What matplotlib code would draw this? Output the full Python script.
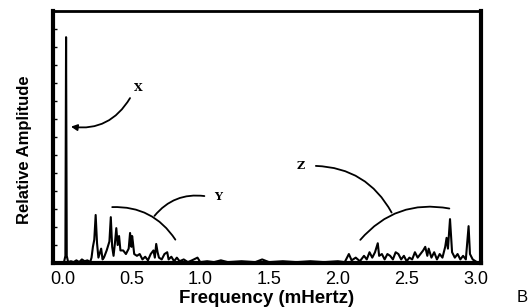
import matplotlib
matplotlib.use("Agg")
import matplotlib.pyplot as plt

# spectrum (frequency in mHz, relative amplitude)
freq = [0.00, 0.01, 0.02, 0.025, 0.03, 0.04, 0.06, 0.08, 0.10, 0.12, 0.14, 0.16, 0.18, 0.20,
        0.21, 0.22, 0.23, 0.24, 0.25, 0.26, 0.28, 0.29, 0.30, 0.32, 0.34, 0.35, 0.36, 0.37,
        0.38, 0.39, 0.40, 0.41, 0.42, 0.44, 0.46, 0.48, 0.49, 0.50, 0.505, 0.51, 0.52, 0.54,
        0.56, 0.58, 0.60, 0.62, 0.64, 0.66, 0.67, 0.68, 0.69, 0.70, 0.72, 0.74, 0.76, 0.77,
        0.79, 0.81, 0.83, 0.85, 0.88, 0.91, 0.94, 0.98, 1.00, 1.05, 1.10, 1.15, 1.20, 1.30,
        1.40, 1.45, 1.50, 1.60, 1.70, 1.80, 1.90, 2.00, 2.05, 2.08, 2.10, 2.13, 2.16, 2.19,
        2.21, 2.23, 2.25, 2.27, 2.29, 2.30, 2.32, 2.34, 2.36, 2.38, 2.40, 2.42, 2.44, 2.46,
        2.48, 2.50, 2.52, 2.54, 2.56, 2.58, 2.60, 2.62, 2.635, 2.65, 2.66, 2.68, 2.70, 2.72,
        2.74, 2.76, 2.78, 2.79, 2.80, 2.815, 2.83, 2.85, 2.87, 2.89, 2.91, 2.93, 2.95, 2.96,
        2.98, 3.00]
amp = [0.0, 0.05, 0.4, 12.55, 0.4, 0.05, 0.1, 0.05, 0.15, 0.05, 0.2, 0.1, 0.15, 0.05,
       0.3, 0.9, 1.3, 2.67, 1.1, 0.3, 0.8, 0.2, 0.3, 0.7, 1.2, 2.55, 0.9, 0.4,
       1.1, 1.94, 1.0, 1.5, 0.7, 0.7, 0.5, 0.8, 1.67, 0.9, 1.5, 1.2, 0.5, 0.4,
       0.5, 0.2, 0.35, 0.15, 0.5, 0.7, 0.3, 1.06, 0.6, 0.3, 0.2, 0.5, 0.6, 0.2,
       0.35, 0.1, 0.3, 0.1, 0.2, 0.05, 0.15, 0.3, 0.05, 0.1, 0.05, 0.15, 0.05, 0.1,
       0.05, 0.2, 0.05, 0.1, 0.05, 0.1, 0.05, 0.1, 0.05, 0.5, 0.15, 0.3, 0.1, 0.4,
       0.2, 0.6, 0.3, 0.6, 1.1, 0.4, 0.5, 0.2, 0.5, 0.4, 0.2, 0.6, 0.5, 0.2,
       0.4, 0.1, 0.3, 0.2, 0.6, 0.3, 0.5, 0.7, 0.9, 0.4, 0.8, 0.3, 0.6, 0.2,
       0.5, 0.3, 0.9, 1.4, 0.8, 2.44, 0.6, 0.3, 0.5, 0.2, 0.4, 0.2, 2.05, 0.5,
       0.2, 0.1]

xticks = [0.0, 0.5, 1.0, 1.5, 2.0, 2.5, 3.0]
xticklabels = ["0.0", "0.5", "1.0", "1.5", "2.0", "2.5", "3.0"]

fig = plt.figure(figsize=(5.3, 3.08), dpi=100)
ax = fig.add_axes([0.1, 0.146, 0.8075, 0.818])

ax.plot(freq, amp, color="black", lw=1.5)

ax.set_xlim(-0.07, 3.04)
ax.set_ylim(0, 14)
ax.set_xticks(xticks)
ax.set_xticklabels(xticklabels, fontfamily="Liberation Sans", fontsize=13)
ax.tick_params(axis="x", length=0, pad=6)
ax.set_yticks(range(0, 15))
ax.set_yticklabels([])
ax.tick_params(axis="y", direction="in", length=3, width=1)

ax.spines["left"].set_linewidth(3)
ax.spines["bottom"].set_linewidth(3)
ax.spines["right"].set_linewidth(3)
ax.spines["top"].set_linewidth(2)

ax.set_xlabel("Frequency (mHertz)", fontfamily="Liberation Sans", fontweight="bold",
              fontsize=13.5, labelpad=1)
ax.set_ylabel("Relative Amplitude", fontfamily="Liberation Sans", fontweight="bold",
              fontsize=12)
ax.yaxis.set_label_coords(-0.05, 0.45)

lab = dict(fontfamily="DejaVu Serif", fontweight="bold", fontsize=8, ha="center", va="center")

# X: arrow to the big peak
ax.annotate("", xy=(0.04, 7.6), xytext=(0.5, 9.3),
            arrowprops=dict(arrowstyle="-|>", color="black", lw=1.3,
                            connectionstyle="arc3,rad=-0.35", mutation_scale=9))
ax.text(0.55, 9.75, "X", **lab)

# Y: bracket arc over the low band
ax.annotate("", xy=(0.83, 1.17), xytext=(0.34, 3.1),
            arrowprops=dict(arrowstyle="-", color="black", lw=1.3,
                            connectionstyle="arc3,rad=-0.3"))
ax.annotate("", xy=(0.655, 2.5), xytext=(1.05, 3.7),
            arrowprops=dict(arrowstyle="-", color="black", lw=1.3,
                            connectionstyle="arc3,rad=0.3"))
ax.text(1.13, 3.72, "Y", **lab)

# Z: bracket arc over the high band
ax.annotate("", xy=(2.83, 3.0), xytext=(2.15, 1.17),
            arrowprops=dict(arrowstyle="-", color="black", lw=1.3,
                            connectionstyle="arc3,rad=-0.3"))
ax.annotate("", xy=(2.40, 2.67), xytext=(1.82, 5.4),
            arrowprops=dict(arrowstyle="-", color="black", lw=1.3,
                            connectionstyle="arc3,rad=-0.3"))
ax.text(1.73, 5.44, "Z", **lab)

fig.text(0.985, 0.035, "B", fontfamily="Liberation Sans", fontsize=12, ha="center", va="center")

fig.savefig("out.png", dpi=100)
